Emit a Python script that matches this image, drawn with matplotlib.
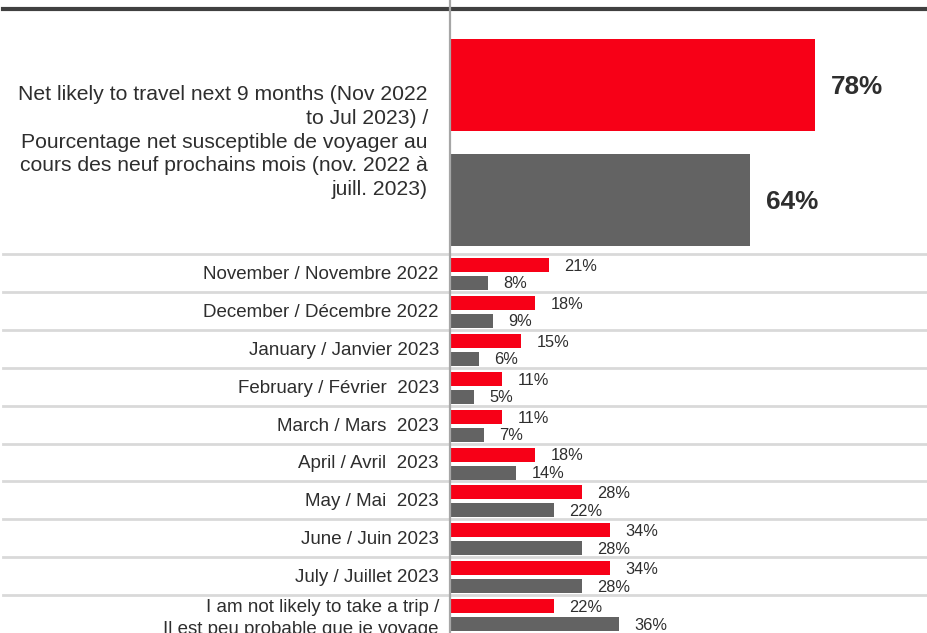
import numpy as np
import matplotlib
matplotlib.use("Agg")
import matplotlib.pyplot as plt

plt.rcParams["font.family"] = ["Liberation Sans", "DejaVu Sans"]

# data
top_label = ("Net likely to travel next 9 months (Nov 2022\nto Jul 2023) /\n"
             "Pourcentage net susceptible de voyager au\n"
             "cours des neuf prochains mois (nov. 2022 à\njuill. 2023)")
top_red = 78
top_gray = 64
months = ["November / Novembre 2022", "December / Décembre 2022", "January / Janvier 2023",
          "February / Février  2023", "March / Mars  2023", "April / Avril  2023",
          "May / Mai  2023", "June / Juin 2023", "July / Juillet 2023",
          "I am not likely to take a trip /\nIl est peu probable que je voyage"]
red_vals = [21, 18, 15, 11, 11, 18, 28, 34, 34, 22]
gray_vals = [8, 9, 6, 5, 7, 14, 22, 28, 28, 36]

RED = "#F70017"
GRAY = "#636363"
TXT = "#2E2E2E"

W, H = 928, 633
fig = plt.figure(figsize=(W / 100, H / 100), dpi=100)
ax = fig.add_axes([0, 0, 1, 1])
ppu = 4.667           # pixels per percentage point
x0 = 451              # pixel of zero
ax.set_xlim(-x0 / ppu, (W - x0) / ppu)
ax.set_ylim(H, 0)
ax.axis("off")

# top group
ax.barh([85, 200], [top_red, top_gray], height=92, color=[RED, GRAY])
for yc, v in zip([87, 202], [top_red, top_gray]):
    ax.text(v + 3.4, yc, f"{v}%", fontsize=18.8, fontweight="bold", color=TXT,
            va="center", ha="left")
ax.text(-23 / ppu, 142, top_label, fontsize=15.2, ha="right", va="center",
        color=TXT, linespacing=1.31)

# month rows
row_top = 254 + 37.9 * np.arange(len(months))
ax.barh(row_top + 11, red_vals, height=14, color=RED)
ax.barh(row_top + 29, gray_vals, height=14, color=GRAY)
for t, lab, r, g in zip(row_top, months, red_vals, gray_vals):
    extra = 3 * lab.count("\n")
    ax.text(-12 / ppu, t + 20.5 + extra, lab, fontsize=13.5, ha="right", va="center",
            color=TXT, linespacing=1.33)
    ax.text(r + 3.3, t + 12.5, f"{r}%", fontsize=11.8, ha="left", va="center", color=TXT)
    ax.text(g + 3.3, t + 30, f"{g}%", fontsize=11.8, ha="left", va="center", color=TXT)

# separators and frame lines
for t in row_top:
    ax.plot([-448 / ppu, (W - x0) / ppu], [t, t], color="#D9D9D9", lw=2, zorder=0)
ax.plot([-448 / ppu, (W - x0) / ppu], [9, 9], color="#404040", lw=3, zorder=3)
ax.plot([-1 / ppu, -1 / ppu], [0, H], color="#A6A6A6", lw=1.6, zorder=4)

fig.savefig("out.png", dpi=100)
